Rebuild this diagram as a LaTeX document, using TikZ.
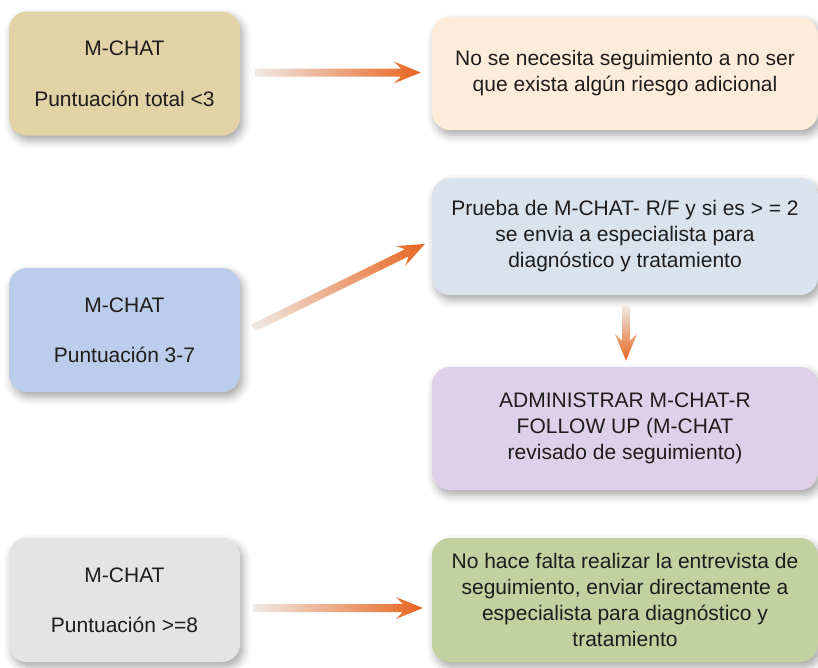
\documentclass[tikz,border=0pt]{standalone}
\usepackage{fontspec}
\setmainfont{Liberation Sans}
\usetikzlibrary{calc,shadows.blur}

\definecolor{cajaTan}{RGB}{226,211,166}
\definecolor{cajaCrema}{RGB}{253,236,218}
\definecolor{cajaCeleste}{RGB}{217,227,238}
\definecolor{cajaAzul}{RGB}{188,205,235}
\definecolor{cajaLila}{RGB}{221,208,232}
\definecolor{cajaGris}{RGB}{228,228,228}
\definecolor{cajaVerde}{RGB}{195,209,161}
\definecolor{flechaIni}{RGB}{240,233,228}
\definecolor{flechaFin}{RGB}{232,100,30}
\definecolor{textoCaja}{RGB}{30,28,28}

\tikzset{
  caja/.style={rounded corners=18pt, align=center, text=textoCaja,
    font=\fontsize{21}{26}\selectfont,
    blur shadow={shadow xshift=3pt, shadow yshift=-5pt,
      shadow blur radius=8pt, shadow opacity=35}},
  cajaizq/.style={caja, minimum width=231pt, minimum height=124pt},
  cajader/.style={caja, minimum width=386pt},
}

% flecha con degradado: de #1 a #2
\newcommand{\flecha}[2]{%
  \path let \p1=($(#2)-(#1)$) in
    \pgfextra{\pgfmathsetmacro\fang{atan2(\y1,\x1)}\pgfmathsetmacro\flen{veclen(\x1,\y1)}%
      \xdef\fAng{\fang}\xdef\fLen{\flen}};
  \begin{scope}[transform canvas={shift={(#1)}, rotate=\fAng}]
    \shade[left color=flechaIni, right color=flechaFin]
      (0,-4) -- ({\fLen-20},-4) -- ({\fLen-27},-11) -- (\fLen,0)
      -- ({\fLen-27},11) -- ({\fLen-20},4) -- (0,4) -- cycle;
  \end{scope}}

\begin{document}
\begin{tikzpicture}[x=1pt, y=-1pt]
  \useasboundingbox (0,0) rectangle (818,667);

  % columna izquierda
  \node[cajaizq, fill=cajaTan] (mA) at (124.5,73.5) {M-CHAT\\[25pt]Puntuación total <3};
  \node[cajaizq, fill=cajaAzul] (mD) at (124.5,330) {M-CHAT\\[24pt]Puntuación 3-7};
  \node[cajaizq, fill=cajaGris] (mF) at (124.5,600) {M-CHAT\\[24pt]Puntuación >=8};

  % columna derecha
  \node[cajader, fill=cajaCrema, minimum height=113pt] (mB) at (625,73.5)
    {No se necesita seguimiento a no ser\\que exista algún riesgo adicional};
  \node[cajader, fill=cajaCeleste, minimum height=117pt] (mC) at (625,236.5)
    {Prueba de M-CHAT- R/F y si es > = 2\\se envia a especialista para\\diagnóstico y tratamiento};
  \node[cajader, fill=cajaLila, minimum height=123pt] (mE) at (625,428.5)
    {ADMINISTRAR M-CHAT-R\\FOLLOW UP (M-CHAT\\revisado de seguimiento)};
  \node[cajader, fill=cajaVerde, minimum height=124pt] (mG) at (625,600)
    {No hace falta realizar la entrevista de\\seguimiento, enviar directamente a\\especialista para diagnóstico y\\tratamiento};

  % flechas
  \coordinate (f1i) at ($(mA.east)+(15,-1)$);
  \coordinate (f1f) at ($(mB.west)+(-11,-1)$);
  \coordinate (f2i) at ($(mD.east)+(13,-2)$);
  \coordinate (f2f) at ($(mC.west)+(-7,7.5)$);
  \coordinate (f3i) at ($(mC.south)+(1,11)$);
  \coordinate (f3f) at ($(mE.north)+(1,-6)$);
  \coordinate (f4i) at ($(mF.east)+(13,8)$);
  \coordinate (f4f) at ($(mG.west)+(-9,8)$);
  \flecha{f1i}{f1f}
  \flecha{f2i}{f2f}
  \flecha{f3i}{f3f}
  \flecha{f4i}{f4f}
\end{tikzpicture}
\end{document}
